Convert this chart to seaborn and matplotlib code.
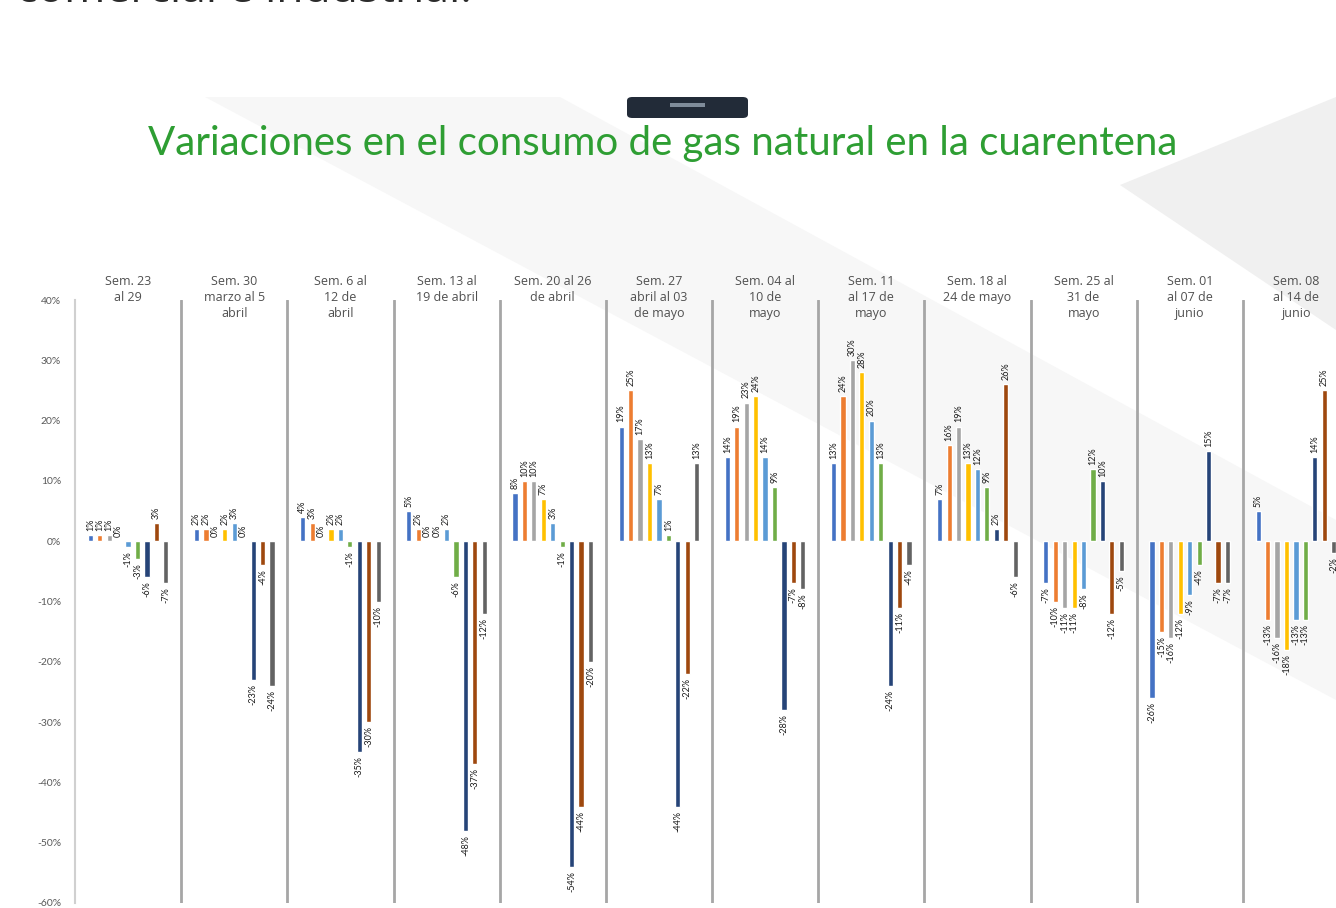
import numpy as np
import pandas as pd
import matplotlib
matplotlib.use("Agg")
import matplotlib.pyplot as plt
import seaborn as sns
from matplotlib.patches import Polygon, FancyBboxPatch, Rectangle
import matplotlib.transforms as mtransforms

# ---------------- data ----------------
weeks = [
    "Sem. 23\nal 29",
    "Sem. 30\nmarzo al 5\nabril",
    "Sem. 6 al\n12 de\nabril",
    "Sem. 13 al\n19 de abril",
    "Sem. 20 al 26\nde abril",
    "Sem. 27\nabril al 03\nde mayo",
    "Sem. 04 al\n10 de\nmayo",
    "Sem. 11\nal 17 de\nmayo",
    "Sem. 18 al\n24 de mayo",
    "Sem. 25 al\n31 de\nmayo",
    "Sem. 01\nal 07 de\njunio",
    "Sem. 08\nal 14 de\njunio",
]
series_names = ["Serie 1", "Serie 2", "Serie 3", "Serie 4", "Serie 5",
                "Serie 6", "Serie 7", "Serie 8", "Serie 9"]
s1 = [1, 2, 4, 5, 8, 19, 14, 13, 7, -7, -26, 5]
s2 = [1, 2, 3, 2, 10, 25, 19, 24, 16, -10, -15, -13]
s3 = [1, 0, 0, 0, 10, 17, 23, 30, 19, -11, -16, -16]
s4 = [0, 2, 2, 0, 7, 13, 24, 28, 13, -11, -12, -18]
s5 = [-1, 3, 2, 2, 3, 7, 14, 20, 12, -8, -9, -13]
s6 = [-3, 0, -1, -6, -1, 1, 9, 13, 9, 12, -4, -13]
s7 = [-6, -23, -35, -48, -54, -44, -28, -24, 2, 10, 15, 14]
s8 = [3, -4, -30, -37, -44, -22, -7, -11, 26, -12, -7, 25]
s9 = [-7, -24, -10, -12, -20, 13, -8, -4, -6, -5, -7, -2]
y_ticks = [40, 30, 20, 10, 0, -10, -20, -30, -40, -50, -60]

title = "Variaciones en el consumo de gas natural en la cuarentena"
palette = ["#4472C4", "#ED7D31", "#A5A5A5", "#FFC000", "#5B9BD5",
           "#70AD47", "#264478", "#9E480E", "#636363"]

all_series = [s1, s2, s3, s4, s5, s6, s7, s8, s9]
rows = []
for name, vals in zip(series_names, all_series):
    for w, v in zip(weeks, vals):
        rows.append({"semana": w, "serie": name, "valor": v})
df = pd.DataFrame(rows)

# ---------------- figure ----------------
sns.set_style("white")
plt.rcParams["font.family"] = ["Lato", "DejaVu Sans"]
W, H = 1336, 908
fig = plt.figure(figsize=(W / 100, H / 100), dpi=100)
fig.patch.set_facecolor("white")

def px(x, y):
    return (x / W, 1 - y / H)

# slide background shapes (very subtle)
bg = [
    ([(205, 97), (560, 97), (1336, 520), (1336, 700)], "#F7F7F7"),
    ([(1120, 185), (1336, 97), (1336, 330)], "#F0F0F0"),
]
for pts, col in bg:
    fig.patches.append(Polygon([px(*p) for p in pts], closed=True,
                               transform=fig.transFigure, facecolor=col,
                               edgecolor="none", zorder=-10))

# dark tab at the top
tab = FancyBboxPatch(px(627, 118), 121 / W, 21 / H,
                     boxstyle="round,pad=0,rounding_size=0.004",
                     transform=fig.transFigure, facecolor="#222B38",
                     edgecolor="none", zorder=1)
fig.patches.append(tab)
fig.patches.append(Rectangle(px(670, 107), 35 / W, 4 / H,
                             transform=fig.transFigure, facecolor="#7F8C9A",
                             edgecolor="none", zorder=2))

# cut-off text at the very top of the screenshot
fig.text(*px(16, 2), "comercial e industrial.", fontsize=32, color="#2B2B2B",
         va="baseline", ha="left", family=["Open Sans", "DejaVu Sans"])

fig.text(*px(663, 143), title, fontsize=29, color="#2E9E33",
         ha="center", va="center")

ax = fig.add_axes([75 / W, 5 / H, 1274 / W, 603 / H])
ax.patch.set_alpha(0)
sns.barplot(data=df, x="semana", y="valor", hue="serie",
            hue_order=series_names, order=weeks, palette=palette,
            gap=0.45, width=0.8, legend=False, ax=ax, saturation=1)

for cont, vals in zip(ax.containers, all_series):
    ax.bar_label(cont, labels=[f"{v}%" for v in vals], rotation=90,
                 padding=3, fontsize=6.5, color="#1A1A1A")

ax.set_ylim(-60, 40)
ax.set_xlim(-0.5, len(weeks) - 0.5)
ax.set_yticks(y_ticks)
ax.set_yticklabels([f"{t}%" for t in y_ticks], fontsize=7.5, color="#595959")
ax.set_xticks([])
ax.set_xlabel("")
ax.set_ylabel("")
for sp in ["top", "right", "bottom"]:
    ax.spines[sp].set_visible(False)
ax.spines["left"].set_color("#D0D0D0")
ax.spines["left"].set_linewidth(1.5)
ax.tick_params(axis="y", length=4, color="#D0D0D0", pad=6)

for i in range(len(weeks) - 1):
    ax.axvline(i + 0.5, color="#A6A6A6", lw=2, zorder=0)

trans = mtransforms.blended_transform_factory(ax.transData, fig.transFigure)
for i, w in enumerate(weeks):
    ax.text(i, 1 - 275 / H, w, transform=trans, ha="center", va="top",
            fontsize=9, color="#505050", linespacing=1.3, clip_on=False,
            family=["Open Sans", "DejaVu Sans"])

fig.savefig("out.png", dpi=100)
